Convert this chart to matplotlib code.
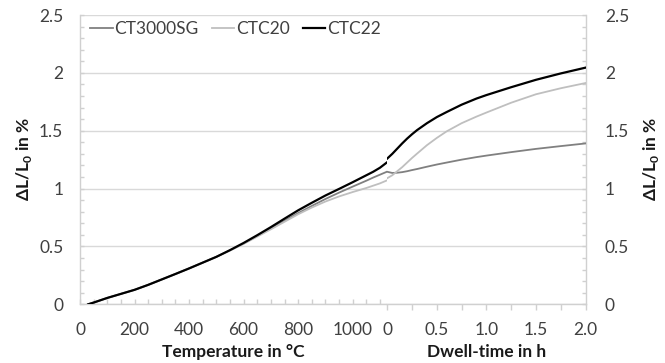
import matplotlib
matplotlib.use("Agg")
import matplotlib.pyplot as plt
from matplotlib.ticker import MultipleLocator, FixedLocator, FixedFormatter

plt.rcParams['font.family'] = ['Lato', 'DejaVu Sans']
plt.rcParams['mathtext.fontset'] = 'custom'
plt.rcParams['mathtext.rm'] = 'Lato'
plt.rcParams['mathtext.bf'] = 'Lato:bold'

# ---- data: heating part (temperature in °C) ----
temp = [30, 50, 100, 150, 200, 250, 300, 350, 400, 450, 500, 550, 600, 650, 700, 750,
        800, 850, 900, 950, 1000, 1050, 1075, 1100, 1125]
ct3000sg_heat = [0, 0.015, 0.055, 0.09, 0.125, 0.168, 0.215, 0.262, 0.31, 0.36, 0.41, 0.466,
                 0.525, 0.59, 0.655, 0.722, 0.788, 0.85, 0.91, 0.965, 1.017, 1.068, 1.095,
                 1.12, 1.145]
ctc20_heat = [0, 0.015, 0.055, 0.09, 0.125, 0.168, 0.215, 0.262, 0.31, 0.36, 0.41, 0.465,
              0.522, 0.585, 0.648, 0.713, 0.778, 0.836, 0.888, 0.932, 0.97, 1.005, 1.025,
              1.045, 1.07]
ctc22_heat = [0, 0.015, 0.055, 0.09, 0.125, 0.168, 0.215, 0.262, 0.31, 0.36, 0.41, 0.468,
              0.53, 0.597, 0.667, 0.74, 0.812, 0.877, 0.94, 0.997, 1.055, 1.115, 1.145,
              1.18, 1.225]

# ---- data: dwell part (time in h) ----
dwell = [0, 0.05, 0.1, 0.15, 0.2, 0.25, 0.3, 0.4, 0.5, 0.6, 0.75, 0.9, 1.0, 1.25, 1.5, 1.75, 2.0]
ct3000sg_dwell = [1.145, 1.135, 1.137, 1.142, 1.15, 1.16, 1.169, 1.189, 1.208, 1.225, 1.25,
                  1.272, 1.285, 1.315, 1.343, 1.367, 1.39]
ctc20_dwell = [1.09, 1.115, 1.15, 1.185, 1.225, 1.265, 1.302, 1.375, 1.438, 1.495, 1.565,
               1.622, 1.657, 1.742, 1.815, 1.867, 1.912]
ctc22_dwell = [1.26, 1.30, 1.345, 1.39, 1.432, 1.47, 1.505, 1.565, 1.618, 1.662, 1.725,
               1.778, 1.808, 1.876, 1.94, 1.995, 2.045]

series_names = ['CT3000SG', 'CTC20', 'CTC22']
temp_ticks = [0, 200, 400, 600, 800, 1000]
dwell_ticks = [0, 0.5, 1.0, 1.5, 2.0]
dwell_labels = ['0', '0.5', '1.0', '1.5', '2.0']
y_ticks = [0, 0.5, 1, 1.5, 2, 2.5]
y_labels = ['0', '0.5', '1', '1.5', '2', '2.5']

colors = ['#808080', '#bfbfbf', '#000000']
widths = [1.3, 1.3, 1.6]
spine_c = '#d0d0d0'
grid_c = '#d9d9d9'
txt_c = '#404040'
fs = 12.5

W, H = 665, 363
fig = plt.figure(figsize=(W / 100, H / 100), dpi=100)
x0, xj, x1 = 80, 387.3, 585.5
ytop, ybot = 15, 304.3
b = 1 - ybot / H
h = (ybot - ytop) / H
ax1 = fig.add_axes([x0 / W, b, (xj - x0) / W, h])
ax2 = fig.add_axes([xj / W, b, (x1 - xj) / W, h])

heat = [ct3000sg_heat, ctc20_heat, ctc22_heat]
dw = [ct3000sg_dwell, ctc20_dwell, ctc22_dwell]
handles = []
for name, c, lw, yh, yd in zip(series_names, colors, widths, heat, dw):
    ln, = ax1.plot(temp, yh, color=c, lw=lw, label=name, zorder=3)
    ax2.plot(dwell, yd, color=c, lw=lw, zorder=3)
    handles.append(ln)

for ax in (ax1, ax2):
    ax.set_ylim(0, 2.5)
    ax.yaxis.set_major_locator(FixedLocator(y_ticks))
    ax.yaxis.set_minor_locator(MultipleLocator(0.1))
    ax.grid(axis='y', which='major', color=grid_c, lw=1.0, zorder=0)
    ax.spines['top'].set_visible(False)
    for s in ('left', 'right', 'bottom'):
        ax.spines[s].set_linewidth(1.0)
        ax.spines[s].set_color(spine_c)
    ax.set_axisbelow(True)

# left axes
ax1.set_xlim(0, 1127)
ax1.spines['right'].set_visible(False)
ax1.xaxis.set_major_locator(FixedLocator(temp_ticks))
ax1.xaxis.set_minor_locator(MultipleLocator(50))
ax1.set_xticklabels([str(t) for t in temp_ticks])
ax1.tick_params(axis='x', which='both', direction='in', length=3.6, width=1, color=spine_c,
                labelsize=fs, labelcolor=txt_c, pad=13.0)
ax1.yaxis.set_major_formatter(FixedFormatter(y_labels))
ax1.tick_params(axis='y', which='both', direction='in', length=3.2, width=1, color=spine_c,
                labelsize=fs, labelcolor=txt_c, pad=12.0)

# right axes
ax2.set_xlim(0, 2.0)
ax2.spines['left'].set_visible(False)
ax2.xaxis.set_major_locator(FixedLocator(dwell_ticks))
ax2.xaxis.set_minor_locator(MultipleLocator(0.25))
ax2.set_xticklabels(dwell_labels)
ax2.tick_params(axis='x', which='both', direction='out', length=4.3, width=1, color=spine_c,
                labelsize=fs, labelcolor=txt_c, pad=8.8)
ax2.yaxis.tick_right()
ax2.yaxis.set_major_formatter(FixedFormatter(y_labels))
ax2.tick_params(axis='y', which='both', direction='in', length=3.2, width=1, color=spine_c,
                labelsize=fs, labelcolor=txt_c, pad=14.0, left=False, right=True)

# axis titles
ty = 1 - 352 / H
fig.text((x0 + xj) / 2 / W, ty, 'Temperature in °C', ha='center', va='center',
         fontsize=fs, fontweight='bold', color='#1a1a1a')
fig.text((xj + x1) / 2 / W, ty, 'Dwell-time in h', ha='center', va='center',
         fontsize=fs, fontweight='bold', color='#1a1a1a')
ylab = r'ΔL/L$_\mathbf{0}$ in %'
yc = 1 - 159 / H
fig.text(24 / W, yc, ylab, rotation=90, ha='center', va='center',
         fontsize=fs, fontweight='bold', color='#1a1a1a')
fig.text(651 / W, yc, ylab, rotation=90, ha='center', va='center',
         fontsize=fs, fontweight='bold', color='#1a1a1a')

fig.legend(handles=handles, labels=series_names, loc='center left',
           bbox_to_anchor=(90 / W, 1 - 29 / H), bbox_transform=fig.transFigure,
           ncol=3, frameon=False, fontsize=fs, handlelength=1.3, handletextpad=0.1,
           columnspacing=0.75, borderpad=0, borderaxespad=0, labelcolor=txt_c)

fig.savefig('out.png', dpi=100)
